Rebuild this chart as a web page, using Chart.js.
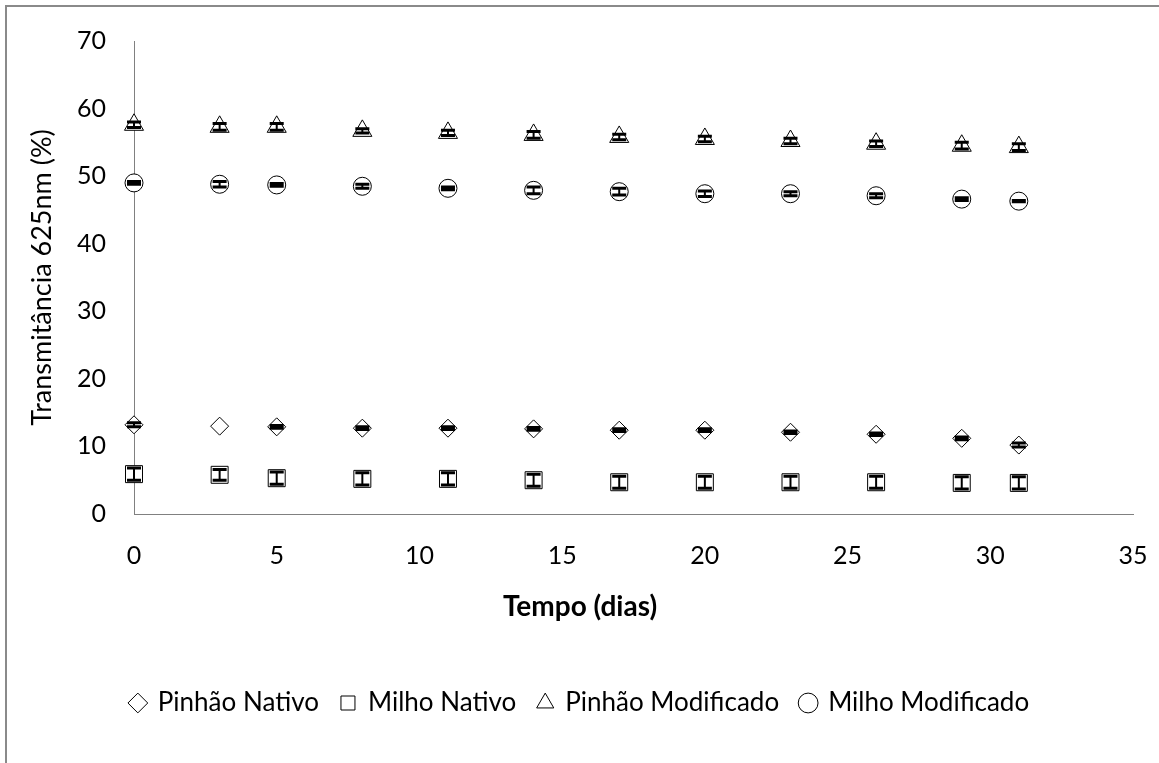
<!DOCTYPE html>
<html>
<head>
<meta charset="utf-8">
<script src="https://cdn.jsdelivr.net/npm/chart.js@4.4.1/dist/chart.umd.min.js"></script>
<style>
  body { margin: 0; background: #fff; }
  #wrap { position: relative; width: 1159px; height: 763px; overflow: hidden; }
  #frame { position: absolute; left: 5px; top: 5px; width: 1400px; height: 1000px; border: 2px solid #8a8a8a; }
  canvas { position: absolute; left: 0; top: 0; }
</style>
</head>
<body>
<div id="wrap">
  <div id="frame"></div>
  <canvas id="chart" width="1159" height="763"></canvas>
</div>
<script>
// Tempo (dias)
const dias = [0, 3, 5, 8, 11, 14, 17, 20, 23, 26, 29, 31];

// Transmitância 625nm (%) per sample
const pinhaoNativo     = [13.2, 13.0, 12.9, 12.7, 12.7, 12.6, 12.4, 12.4, 12.1, 11.8, 11.2, 10.2];
const milhoNativo      = [5.9, 5.8, 5.3, 5.2, 5.2, 5.0, 4.7, 4.7, 4.7, 4.7, 4.6, 4.6];
const pinhaoModificado = [57.6, 57.3, 57.3, 56.7, 56.4, 56.1, 55.8, 55.5, 55.2, 54.8, 54.5, 54.3];
const milhoModificado  = [49.0, 48.8, 48.7, 48.5, 48.2, 47.9, 47.7, 47.4, 47.4, 47.1, 46.6, 46.3];

// desvio padrão
const errPinhaoNativo     = [0.3, 0, 0.2, 0.2, 0.2, 0.2, 0.2, 0.2, 0.2, 0.2, 0.2, 0.3];
const errMilhoNativo      = [0.9, 0.8, 0.9, 0.9, 0.9, 0.9, 0.9, 0.9, 0.9, 0.9, 0.9, 0.9];
const errPinhaoModificado = [0.4, 0.5, 0.5, 0.3, 0.4, 0.5, 0.4, 0.4, 0.4, 0.4, 0.5, 0.5];
const errMilhoModificado  = [0.2, 0.4, 0.2, 0.3, 0.2, 0.5, 0.5, 0.4, 0.3, 0.3, 0.2, 0.1];

const xTicks = [0, 5, 10, 15, 20, 25, 30, 35];
const yTicks = [0, 10, 20, 30, 40, 50, 60, 70];

const FONT = 'Lato, "Open Sans", sans-serif';

function points(values) {
  return values.map((v, i) => ({ x: dias[i], y: v }));
}

function series(label, values, errors, style, radius) {
  return {
    label: label,
    data: points(values),
    errors: errors,
    clip: false,
    pointStyle: style,
    pointRadius: radius,
    pointHoverRadius: radius,
    pointBackgroundColor: '#fff',
    pointBorderColor: '#000',
    pointBorderWidth: 1,
    backgroundColor: '#fff',
    borderColor: '#000',
    showLine: false
  };
}

// draws the vertical error bars on top of the markers
const errorBars = {
  id: 'errorBars',
  afterDatasetsDraw(chart) {
    const ctx = chart.ctx;
    const xs = chart.scales.x;
    const ys = chart.scales.y;
    ctx.save();
    ctx.strokeStyle = '#000';
    chart.data.datasets.forEach(ds => {
      ds.data.forEach((p, i) => {
        const e = ds.errors[i];
        if (!e) return;
        const px = xs.getPixelForValue(p.x);
        const top = ys.getPixelForValue(p.y + e);
        const bot = ys.getPixelForValue(p.y - e);
        ctx.lineWidth = 2;
        ctx.beginPath();
        ctx.moveTo(px, top);
        ctx.lineTo(px, bot);
        ctx.stroke();
        ctx.lineWidth = 3;
        ctx.beginPath();
        ctx.moveTo(px - 7, top); ctx.lineTo(px + 7, top);
        ctx.moveTo(px - 7, bot); ctx.lineTo(px + 7, bot);
        ctx.stroke();
      });
    });
    ctx.restore();
  }
};

const ctx = document.getElementById('chart').getContext('2d');
new Chart(ctx, {
  type: 'scatter',
  data: {
    datasets: [
      series('Pinhão Nativo', pinhaoNativo, errPinhaoNativo, 'rectRot', 9),
      series('Milho Nativo', milhoNativo, errMilhoNativo, 'rect', 12),
      series('Pinhão Modificado', pinhaoModificado, errPinhaoModificado, 'triangle', 11),
      series('Milho Modificado', milhoModificado, errMilhoModificado, 'circle', 9)
    ]
  },
  options: {
    responsive: false,
    animation: false,
    layout: { padding: { left: 10, right: 9, top: 41, bottom: 37 } },
    plugins: {
      tooltip: { enabled: false },
      title: {
        display: true,
        position: 'bottom',
        weight: 500,
        text: 'Tempo (dias)',
        color: '#000',
        font: { family: FONT, size: 28, weight: 'bold' },
        padding: { top: 5, bottom: 44.2 }
      },
      legend: {
        position: 'bottom',
        labels: {
          usePointStyle: true,
          boxWidth: 14,
          boxHeight: 14,
          padding: 22,
          color: '#000',
          font: { family: FONT, size: 26 }
        }
      }
    },
    scales: {
      x: {
        type: 'linear',
        min: 0,
        max: 35,
        afterBuildTicks: s => { s.ticks = xTicks.map(v => ({ value: v })); },
        afterFit: s => { s.height = 71.2; s.paddingLeft = 0; s.paddingRight = 26; },
        grid: { display: false, drawTicks: false },
        border: { display: true, color: '#808080', width: 1 },
        ticks: { padding: 27, color: '#000', font: { family: FONT, size: 25 } }
      },
      y: {
        min: 0,
        max: 70,
        afterBuildTicks: s => { s.ticks = yTicks.map(v => ({ value: v })); },
        afterFit: s => { s.width = 124; s.paddingTop = 0; s.paddingBottom = 0; },
        grid: { display: false, drawTicks: false },
        border: { display: true, color: '#808080', width: 1 },
        ticks: { padding: 28, color: '#000', font: { family: FONT, size: 25 } },
        title: {
          display: true,
          text: 'Transmitância 625nm (%)',
          color: '#000',
          font: { family: FONT, size: 27 },
          padding: { top: 16, bottom: 0 }
        }
      }
    }
  },
  plugins: [errorBars]
});
</script>
</body>
</html>
